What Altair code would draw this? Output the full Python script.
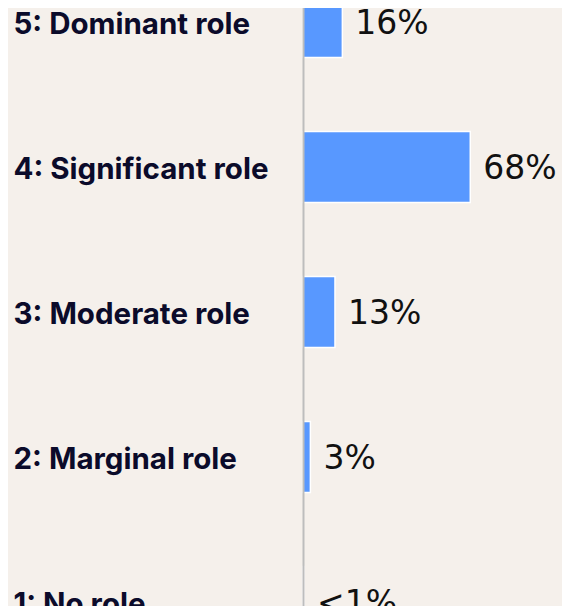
import altair as alt
import pandas as pd

categories = ["5: Dominant role", "4: Significant role", "3: Moderate role", "2: Marginal role", "1: No role"]
values = [16, 68, 13, 3, 0.4]
labels = ["16%", "68%", "13%", "3%", "<1%"]

df = pd.DataFrame({"category": categories, "value": values, "label": labels})

y_enc = alt.Y(
    "category:N",
    sort=categories,
    title=None,
    scale=alt.Scale(range=[-58.5, 666.5], paddingInner=0.51, paddingOuter=0.255),
    axis=alt.Axis(
        labelAlign="left",
        labelBaseline="middle",
        labelPadding=290,
        labelOffset=3,
        labelFont="Inter",
        labelFontWeight="bold",
        labelFontSize=29.5,
        labelColor="#0B0B2A",
        labelLimit=400,
        ticks=False,
        tickSize=0,
        domain=True,
        domainColor="#BDBDBD",
        domainWidth=2,
        grid=False,
        zindex=1,
    ),
)
x_enc = alt.X("value:Q", scale=alt.Scale(domain=[0, 100]), axis=None)

bars = alt.Chart(df).mark_bar(color="#5898FF", stroke="white", strokeWidth=1.5).encode(
    x=x_enc, y=y_enc
)
text = alt.Chart(df).mark_text(
    align="left", baseline="middle", dx=13, dy=2, fontSize=33, font="DejaVu Sans", color="#111111"
).encode(x=x_enc, y=alt.Y("category:N", sort=categories), text="label:N")

chart = (
    alt.layer(bars, text)
    .properties(
        width=246,
        height=598,
        background="#F5F0EB",
        autosize=alt.AutoSizeParams(type="none"),
        padding={"left": 295, "top": 0, "right": 13, "bottom": 0},
    )
    .configure_view(stroke=None)
)

chart.save("out.html", embed_options={"renderer": "svg", "actions": False})
